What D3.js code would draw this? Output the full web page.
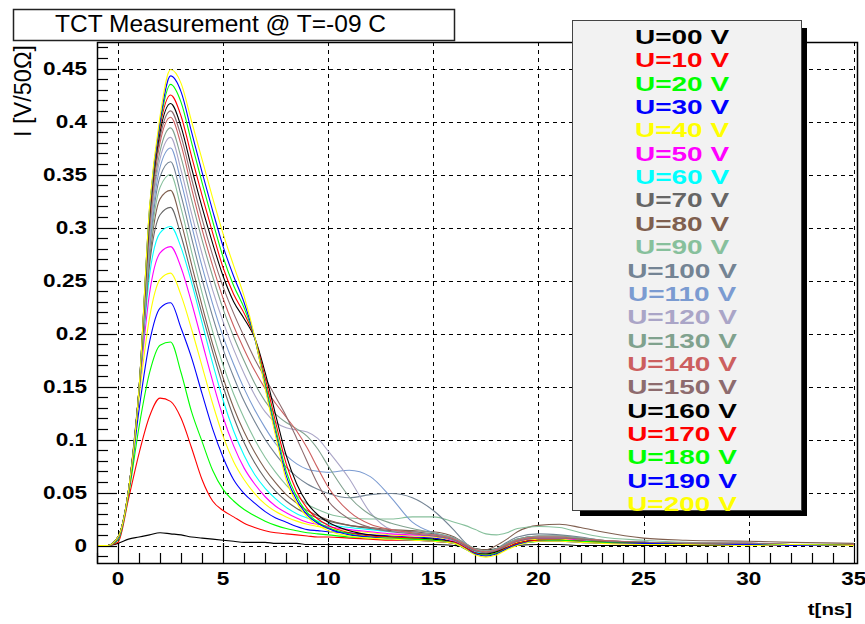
<!DOCTYPE html>
<html>
<head>
<meta charset="utf-8">
<script src="https://cdn.jsdelivr.net/npm/d3@7"></script>
<style>
  body { margin: 0; background: #fff; }
  svg { display: block; }
</style>
</head>
<body>
<script>
// sample times [ns]
var T = [-1,-0.5,0,0.5,1,1.5,2,2.5,3,3.5, 4,4.5,5,5.5,6,6.5,7,7.5,8,8.5,
         9,9.5,10,11,12,13,14,15,16,16.5, 17,17.5,18,18.5,19,20,21,22,23,25,
         27,30,32,35];

var labels = ["U=00 V","U=10 V","U=20 V","U=30 V","U=40 V","U=50 V","U=60 V","U=70 V",
              "U=80 V","U=90 V","U=100 V","U=110 V","U=120 V","U=130 V","U=140 V",
              "U=150 V","U=160 V","U=170 V","U=180 V","U=190 V","U=200 V"];

var colors = ["#000000","#ff0000","#00ff00","#0000ff","#ffff00","#ff00ff","#00ffff","#666666",
              "#7f5f4f","#87c09c","#748494","#7b9bd1","#aaa5c7","#80a28e","#cc5f5f",
              "#8d6b6e","#000000","#ff0000","#00ff00","#0000ff","#ffff00"];

// current I [V/50 Ohm] per bias voltage
var u00 = [0,0,0.002,0.006,0.008,0.01,0.012,0.011,0.01,0.008, 0.007,0.006,0.005,0.004,0.003,0.003,0.003,0.002,0.002,0.002, 0.001,0.001,0.001,0.001,0.001,0.001,0.001,0.001,0,-0.001, -0.003,-0.004,-0.003,-0.001,0,0.001,0.001,0,0,0, 0,0,0,0];
var u10 = [0,0,0.003,0.044,0.087,0.122,0.139,0.136,0.12,0.092, 0.062,0.042,0.033,0.027,0.021,0.017,0.014,0.012,0.011,0.01, 0.009,0.008,0.008,0.007,0.006,0.005,0.005,0.004,0.002,-0.001, -0.005,-0.007,-0.005,-0.001,0.002,0.005,0.005,0.004,0.003,0.002, 0.001,0.001,0,0];
var u20 = [0,0,0.005,0.048,0.112,0.163,0.189,0.192,0.163,0.126, 0.098,0.071,0.053,0.042,0.034,0.028,0.023,0.019,0.016,0.014, 0.012,0.011,0.01,0.008,0.007,0.006,0.006,0.005,0.002,-0.002, -0.006,-0.007,-0.005,-0.001,0.003,0.005,0.005,0.004,0.003,0.002, 0.001,0.001,0,0];
var u30 = [0,0,0.006,0.05,0.128,0.192,0.224,0.229,0.205,0.177, 0.143,0.11,0.083,0.062,0.049,0.04,0.032,0.026,0.022,0.018, 0.015,0.014,0.013,0.012,0.01,0.009,0.008,0.007,0.003,-0.002, -0.006,-0.008,-0.006,-0.001,0.003,0.006,0.006,0.004,0.003,0.002, 0.001,0.001,0,0];
var u40 = [0,0,0.007,0.052,0.14,0.215,0.251,0.257,0.236,0.204, 0.169,0.134,0.103,0.079,0.062,0.049,0.039,0.032,0.027,0.023, 0.02,0.018,0.016,0.014,0.012,0.01,0.009,0.008,0.004,-0.001, -0.006,-0.008,-0.006,-0.001,0.003,0.006,0.006,0.005,0.003,0.002, 0.001,0.001,0.001,0];
var u50 = [0,0,0.008,0.052,0.145,0.238,0.276,0.282,0.262,0.229, 0.192,0.155,0.121,0.094,0.073,0.058,0.046,0.037,0.031,0.026, 0.022,0.02,0.018,0.015,0.013,0.011,0.01,0.009,0.004,-0.001, -0.006,-0.007,-0.005,0,0.004,0.007,0.007,0.005,0.004,0.002, 0.002,0.001,0.001,0];
var u60 = [0,0,0.008,0.052,0.146,0.255,0.295,0.301,0.281,0.248, 0.21,0.172,0.137,0.108,0.085,0.067,0.054,0.044,0.036,0.03, 0.026,0.023,0.02,0.017,0.015,0.013,0.012,0.01,0.005,0, -0.006,-0.007,-0.004,0.001,0.005,0.008,0.008,0.006,0.004,0.003, 0.002,0.001,0.001,0.001];
var u70 = [0,0,0.008,0.052,0.146,0.265,0.312,0.319,0.292,0.255, 0.218,0.183,0.15,0.121,0.097,0.078,0.063,0.051,0.042,0.035, 0.03,0.026,0.023,0.019,0.016,0.014,0.013,0.011,0.006,0, -0.005,-0.006,-0.003,0.002,0.006,0.009,0.009,0.007,0.005,0.003, 0.002,0.002,0.001,0.001];
var u80 = [0,0,0.008,0.052,0.145,0.27,0.327,0.335,0.305,0.265, 0.226,0.19,0.158,0.13,0.107,0.088,0.072,0.059,0.048,0.04, 0.033,0.028,0.024,0.019,0.017,0.015,0.014,0.013,0.008,0.002, -0.003,-0.004,0,0.006,0.013,0.019,0.02,0.017,0.013,0.007, 0.005,0.004,0.003,0.002];
var u90 = [0,0,0.008,0.052,0.145,0.275,0.338,0.35,0.318,0.277, 0.238,0.202,0.17,0.143,0.12,0.1,0.083,0.069,0.057,0.047, 0.039,0.034,0.03,0.026,0.025,0.025,0.027,0.027,0.022,0.019, 0.015,0.011,0.01,0.012,0.016,0.018,0.017,0.012,0.008,0.005, 0.003,0.002,0.001,0.001];
var u100 = [0,0,0.008,0.052,0.145,0.28,0.348,0.362,0.33,0.29, 0.251,0.216,0.185,0.159,0.136,0.117,0.1,0.086,0.074,0.065, 0.058,0.053,0.049,0.045,0.048,0.049,0.045,0.033,0.014,0.003, -0.004,-0.006,-0.003,0.003,0.008,0.011,0.01,0.008,0.005,0.003, 0.002,0.002,0.001,0.001];
var u110 = [0,0,0.008,0.052,0.146,0.285,0.357,0.375,0.343,0.302, 0.263,0.228,0.197,0.171,0.148,0.128,0.111,0.096,0.085,0.077, 0.072,0.07,0.069,0.071,0.065,0.045,0.022,0.012,0.007,0.002, -0.004,-0.006,-0.004,0.001,0.005,0.008,0.008,0.006,0.004,0.003, 0.002,0.001,0.001,0.001];
var u120 = [0,0,0.008,0.052,0.146,0.29,0.365,0.385,0.354,0.313, 0.275,0.241,0.211,0.185,0.162,0.142,0.126,0.116,0.111,0.109, 0.107,0.101,0.089,0.063,0.031,0.015,0.012,0.01,0.006,0.001, -0.004,-0.006,-0.004,0.001,0.005,0.008,0.008,0.006,0.004,0.003, 0.002,0.001,0.001,0.001];
var u130 = [0,0,0.008,0.052,0.147,0.295,0.372,0.394,0.366,0.326, 0.288,0.254,0.223,0.197,0.174,0.153,0.136,0.124,0.116,0.11, 0.103,0.091,0.075,0.046,0.029,0.021,0.016,0.012,0.007,0.002, -0.003,-0.005,-0.003,0.002,0.006,0.009,0.009,0.007,0.005,0.003, 0.002,0.002,0.001,0.001];
var u140 = [0,0,0.008,0.052,0.147,0.3,0.38,0.404,0.378,0.337, 0.298,0.264,0.233,0.207,0.185,0.165,0.148,0.134,0.121,0.108, 0.092,0.073,0.055,0.032,0.02,0.015,0.012,0.01,0.006,0.001, -0.004,-0.006,-0.004,0.001,0.005,0.008,0.008,0.006,0.005,0.003, 0.002,0.002,0.001,0.001];
var u150 = [0,0,0.008,0.052,0.147,0.305,0.385,0.41,0.386,0.346, 0.308,0.274,0.244,0.219,0.197,0.176,0.158,0.14,0.122,0.101, 0.079,0.058,0.042,0.025,0.017,0.013,0.011,0.009,0.005,0, -0.005,-0.007,-0.005,0,0.004,0.007,0.007,0.006,0.004,0.003, 0.002,0.002,0.001,0];
var u160 = [0,0,0.008,0.052,0.148,0.31,0.39,0.417,0.395,0.356, 0.319,0.285,0.254,0.23,0.214,0.196,0.163,0.123,0.085,0.058, 0.04,0.029,0.022,0.014,0.01,0.008,0.007,0.006,0.003,-0.002, -0.007,-0.008,-0.006,-0.002,0.002,0.005,0.005,0.004,0.003,0.002, 0.001,0.001,0.001,0];
var u170 = [0,0,0.008,0.052,0.148,0.314,0.395,0.425,0.405,0.367, 0.33,0.295,0.262,0.237,0.219,0.196,0.158,0.116,0.077,0.051, 0.035,0.025,0.019,0.012,0.009,0.008,0.007,0.005,0.003,-0.002, -0.007,-0.009,-0.007,-0.002,0.002,0.005,0.005,0.004,0.003,0.002, 0.001,0.001,0,0];
var u180 = [0,0,0.008,0.052,0.148,0.316,0.398,0.435,0.418,0.38, 0.342,0.306,0.272,0.245,0.224,0.196,0.153,0.11,0.07,0.046, 0.031,0.022,0.017,0.011,0.008,0.007,0.006,0.005,0.002,-0.003, -0.008,-0.009,-0.007,-0.003,0.001,0.004,0.005,0.004,0.003,0.002, 0.001,0.001,0.001,0];
var u190 = [0,0,0.008,0.052,0.148,0.318,0.4,0.443,0.428,0.39, 0.352,0.316,0.282,0.254,0.229,0.196,0.15,0.106,0.066,0.043, 0.029,0.021,0.016,0.01,0.008,0.006,0.005,0.004,0.002,-0.003, -0.008,-0.01,-0.008,-0.003,0.001,0.004,0.004,0.003,0.002,0.002, 0.001,0.001,0,0];
var u200 = [0,0,0.008,0.052,0.148,0.32,0.405,0.449,0.436,0.4, 0.364,0.328,0.294,0.264,0.235,0.197,0.148,0.103,0.062,0.04, 0.027,0.019,0.014,0.009,0.007,0.006,0.005,0.004,0.002,-0.003, -0.009,-0.011,-0.009,-0.004,0,0.004,0.004,0.003,0.002,0.001, 0.001,0,0.001,0];

var series = [u00,u10,u20,u30,u40,u50,u60,u70,u80,u90,u100,u110,u120,u130,u140,u150,u160,u170,u180,u190,u200];
series.forEach(function(s, i) {
  if (s.length != T.length) throw new Error("series " + labels[i] + " has " + s.length + " points");
});

var xTicks = [0,5,10,15,20,25,30,35];
var yTicks = [0,0.05,0.1,0.15,0.2,0.25,0.3,0.35,0.4,0.45];

var width = 865, height = 624;
var fL = 97, fT = 42, fR = 857, fB = 563;

var svg = d3.select("body").append("svg")
  .attr("width", width)
  .attr("height", height);

var x = d3.scaleLinear().domain([-1, 35.15]).range([fL, fR]);
var y = d3.scaleLinear().domain([-0.0165, 0.475]).range([fB, fT]);

// stretched bold text, like the original output
function stext(g, tx, ty, str, size, anchor, sx, color, weight) {
  return g.append("text")
    .attr("transform", "translate(" + tx + "," + ty + ") scale(" + sx + ",1)")
    .attr("text-anchor", anchor)
    .style("font-family", "'Liberation Sans', Arial, sans-serif")
    .style("font-weight", weight || "bold")
    .style("font-size", size + "px")
    .style("fill", color || "#000")
    .text(str);
}

svg.append("defs").append("clipPath").attr("id", "frame")
  .append("rect").attr("x", fL).attr("y", fT).attr("width", fR - fL).attr("height", fB - fT);

// grid
var grid = svg.append("g").attr("stroke", "#000").attr("stroke-dasharray", "4,4").attr("stroke-width", 1);
xTicks.forEach(function(t) {
  grid.append("line").attr("x1", Math.round(x(t)) + 0.5).attr("x2", Math.round(x(t)) + 0.5)
    .attr("y1", fT).attr("y2", fB);
});
yTicks.forEach(function(v) {
  grid.append("line").attr("y1", Math.round(y(v)) + 0.5).attr("y2", Math.round(y(v)) + 0.5)
    .attr("x1", fL).attr("x2", fR);
});

// ticks
var ticks = svg.append("g").attr("stroke", "#000").attr("stroke-width", 1.2);
d3.range(-1, 36, 1).forEach(function(t) {
  var major = (t % 5 == 0);
  var px = Math.round(x(t)) + 0.5;
  ticks.append("line").attr("x1", px).attr("x2", px).attr("y1", fB).attr("y2", fB - (major ? 20 : 10));
});
d3.range(-1, 48, 1).forEach(function(k) {
  var v = k / 100;
  if (y(v) < fT + 1) return;
  var major = (k % 5 == 0);
  var py = Math.round(y(v)) + 0.5;
  ticks.append("line").attr("y1", py).attr("y2", py).attr("x1", fL).attr("x2", fL + (major ? 20 : 11));
});

// curves
var line = d3.line()
  .x(function(d) { return x(d[0]); })
  .y(function(d) { return y(d[1]); })
  .curve(d3.curveMonotoneX);

svg.append("g").attr("clip-path", "url(#frame)")
  .selectAll("path")
  .data(series)
  .enter()
  .append("path")
  .attr("d", function(s) { return line(s.map(function(v, i) { return [T[i], v]; })); })
  .attr("fill", "none")
  .attr("stroke", function(s, i) { return colors[i]; })
  .attr("stroke-width", 1.1);

// frame
svg.append("rect").attr("x", fL + 0.5).attr("y", fT + 0.5).attr("width", fR - fL).attr("height", fB - fT)
  .attr("fill", "none").attr("stroke", "#000").attr("stroke-width", 1.5);

// tick labels
var lab = svg.append("g");
yTicks.forEach(function(v) {
  stext(lab, 87, y(v) + 6.5, d3.format("")(+v.toFixed(2)), 18.5, "end", 1.22);
});
xTicks.forEach(function(t) {
  stext(lab, x(t), 585, String(t), 18.5, "middle", 1.22);
});

// axis titles
stext(svg, 852, 615, "t[ns]", 17, "end", 1.2);
svg.append("text")
  .attr("transform", "translate(31,45) rotate(-90)")
  .attr("text-anchor", "end")
  .style("font-family", "'Liberation Sans', Arial, sans-serif")
  .style("font-size", "23.5px")
  .text("I [V/50\u03A9]");

// title box
svg.append("rect").attr("x", 13.5).attr("y", 9.5).attr("width", 441).attr("height", 31)
  .attr("fill", "#fff").attr("stroke", "#222").attr("stroke-width", 1.5);
svg.append("text").attr("x", 55).attr("y", 32)
  .style("font-family", "'Liberation Sans', Arial, sans-serif")
  .style("font-size", "24.5px")
  .text("TCT Measurement @ T=-09 C");

// legend
var lg = svg.append("g");
lg.append("rect").attr("x", 580).attr("y", 28).attr("width", 227).attr("height", 488).attr("fill", "#000");
lg.append("rect").attr("x", 572.5).attr("y", 20.5).attr("width", 229).attr("height", 490)
  .attr("fill", "#f2f2f2").attr("stroke", "#444").attr("stroke-width", 1);
labels.forEach(function(s, i) {
  stext(lg, 682, 44 + i * 23.35, s, 20, "middle", 1.4, colors[i]);
});
</script>
</body>
</html>
